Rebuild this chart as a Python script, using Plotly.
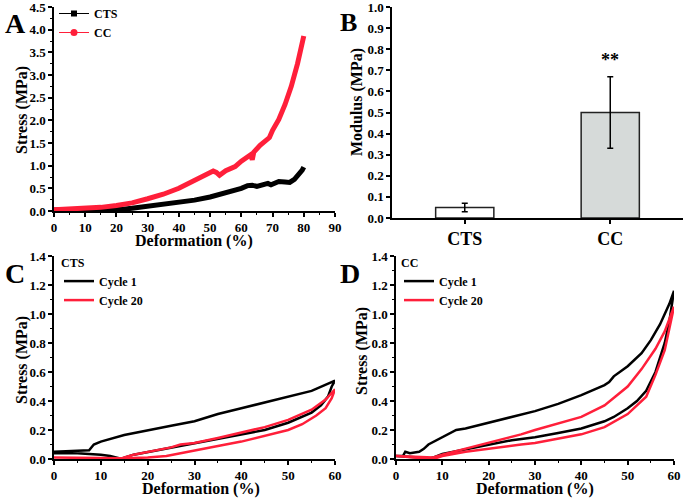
import plotly.graph_objects as go

# ---------------- Panel A: stress-strain ----------------
a_cts_x = [0, 10, 18, 22, 25, 30, 35, 40, 45, 50, 55, 60, 62, 63.5, 65, 67, 68.5, 69.5, 70.5, 72, 74, 75.5, 77, 78.5, 79.5, 80]
a_cts_y = [0.02, 0.02, 0.02, 0.04, 0.06, 0.10, 0.14, 0.18, 0.24, 0.31, 0.40, 0.50, 0.56, 0.57, 0.54, 0.58, 0.61, 0.58, 0.60, 0.65, 0.64, 0.63, 0.70, 0.80, 0.90, 0.97]
a_cc_x = [0, 10, 15, 20, 25, 30, 35, 40, 45, 50, 51, 52, 53, 55, 57, 58, 60, 62, 63, 63.5, 64, 66, 68, 69, 70, 72, 74, 76, 78, 79, 80]
a_cc_y = [0.03, 0.05, 0.08, 0.12, 0.18, 0.27, 0.37, 0.50, 0.66, 0.85, 0.88, 0.85, 0.79, 0.89, 0.96, 0.98, 1.10, 1.20, 1.24, 1.13, 1.30, 1.45, 1.57, 1.62, 1.78, 2.02, 2.35, 2.75, 3.25, 3.62, 3.86]

# ---------------- Panel B: modulus ----------------
b_cats = ["CTS", "CC"]
b_vals = [0.05, 0.50]
b_errs = [0.02, 0.17]
b_fill = ["white", "#d6dad9"]

# ---------------- Panel C: CTS cyclic ----------------
c_c1_x = [0, 5, 7.5, 8.5, 10, 15, 20, 25, 30, 35, 40, 45, 50, 55, 60,
          59.3, 58.5, 57, 55, 53, 50, 45, 40, 35, 30, 25, 20, 17, 15, 14.5, 12, 10, 5, 0]
c_c1_y = [0.05, 0.055, 0.06, 0.10, 0.12, 0.165, 0.20, 0.23, 0.26, 0.31, 0.35, 0.39, 0.43, 0.47, 0.54,
          0.50, 0.43, 0.37, 0.32, 0.29, 0.25, 0.20, 0.17, 0.14, 0.11, 0.08, 0.05, 0.03, 0.01, 0.0, 0.02, 0.03, 0.04, 0.04]
c_c20_x = [0, 10, 14.5, 17, 20, 25, 27, 30, 35, 40, 45, 50, 55, 58, 60,
           59.3, 58, 56, 53, 50, 45, 40, 35, 30, 27, 24, 20, 15]
c_c20_y = [0.01, 0.01, 0.005, 0.03, 0.05, 0.08, 0.10, 0.11, 0.145, 0.18, 0.22, 0.27, 0.34, 0.41, 0.48,
           0.42, 0.35, 0.30, 0.24, 0.20, 0.16, 0.12, 0.09, 0.06, 0.04, 0.02, 0.01, 0.005]

# ---------------- Panel D: CC cyclic ----------------
d_c1_x = [0, 1.5, 2, 3, 5, 6, 7, 10, 13, 15, 20, 25, 30, 35, 40, 45, 46, 47, 50, 53, 55, 57, 59, 60,
          59, 58, 56, 54, 52, 50, 47, 45, 40, 35, 30, 25, 20, 15, 10, 8, 7, 5, 0]
d_c1_y = [0.02, 0.02, 0.05, 0.04, 0.05, 0.07, 0.10, 0.15, 0.20, 0.21, 0.25, 0.29, 0.33, 0.38, 0.44, 0.51, 0.53, 0.57, 0.64, 0.73, 0.82, 0.93, 1.07, 1.16,
          0.95, 0.80, 0.60, 0.47, 0.40, 0.35, 0.29, 0.26, 0.21, 0.18, 0.15, 0.13, 0.10, 0.07, 0.035, 0.01, 0.0, 0.01, 0.02]
d_c20_x = [0, 8, 10, 15, 20, 27, 30, 40, 45, 50, 53, 56, 58, 60,
           59, 58, 56, 54, 50, 45, 40, 30, 27, 20, 15, 10, 8, 0]
d_c20_y = [0.02, 0.01, 0.03, 0.07, 0.11, 0.17, 0.20, 0.29, 0.37, 0.50, 0.62, 0.76, 0.88, 1.05,
           0.90, 0.75, 0.58, 0.43, 0.31, 0.22, 0.17, 0.11, 0.10, 0.07, 0.05, 0.02, 0.0, 0.02]

RED = "#ff1f3a"
FONT = "Liberation Serif"
W, H = 685, 498

def px_x(p):
    return p / W

def px_y(p):
    return 1 - p / H

fig = go.Figure()

# Panel A traces
fig.add_trace(go.Scatter(x=a_cts_x, y=a_cts_y, mode="lines", line=dict(color="black", width=5),
                         showlegend=False, xaxis="x", yaxis="y"))
fig.add_trace(go.Scatter(x=a_cc_x, y=a_cc_y, mode="lines", line=dict(color=RED, width=5),
                         showlegend=False, xaxis="x", yaxis="y"))
fig.add_trace(go.Scatter(x=[None], y=[None], mode="lines+markers", name="CTS",
                         line=dict(color="black", width=1), marker=dict(symbol="square", size=6, color="black"),
                         xaxis="x", yaxis="y", legend="legend"))
fig.add_trace(go.Scatter(x=[None], y=[None], mode="lines+markers", name="CC",
                         line=dict(color=RED, width=1), marker=dict(symbol="circle", size=7, color=RED),
                         xaxis="x", yaxis="y", legend="legend"))

# Panel B
fig.add_trace(go.Bar(x=b_cats, y=b_vals, width=0.4, marker=dict(color=b_fill, line=dict(color="#222", width=1.5)),
                     error_y=dict(type="data", array=b_errs, visible=True, color="black", thickness=1.5, width=3),
                     showlegend=False, xaxis="x2", yaxis="y2"))

# Panel C
fig.add_trace(go.Scatter(x=c_c1_x, y=c_c1_y, mode="lines", name="Cycle 1", line=dict(color="black", width=2.5),
                         xaxis="x3", yaxis="y3", legend="legend2"))
fig.add_trace(go.Scatter(x=c_c20_x, y=c_c20_y, mode="lines", name="Cycle 20", line=dict(color=RED, width=2.5),
                         xaxis="x3", yaxis="y3", legend="legend2"))

# Panel D
fig.add_trace(go.Scatter(x=d_c1_x, y=d_c1_y, mode="lines", name="Cycle 1", line=dict(color="black", width=2.5),
                         xaxis="x4", yaxis="y4", legend="legend3"))
fig.add_trace(go.Scatter(x=d_c20_x, y=d_c20_y, mode="lines", name="Cycle 20", line=dict(color=RED, width=2.5),
                         xaxis="x4", yaxis="y4", legend="legend3"))

tickfont = dict(family=FONT, size=13, color="black", weight="bold")
titlefont = dict(family=FONT, size=16, color="black", weight="bold")
legfont = dict(family=FONT, size=12, color="black", weight="bold")

def xax(domain, anchor, rng, dtick, minor_dtick):
    d = dict(domain=domain, anchor=anchor, range=rng, dtick=dtick, showline=True, linecolor="black", linewidth=1.5,
             ticks="outside", ticklen=4, tickwidth=1.5, tickcolor="black", showgrid=False, zeroline=False,
             automargin=False, ticklabeloverflow="allow", tickfont=tickfont)
    if minor_dtick:
        d["minor"] = dict(dtick=minor_dtick, ticks="outside", ticklen=2.5, tickwidth=1.2, tickcolor="black", showgrid=False)
    return d

def yax(domain, anchor, rng, dtick, minor_dtick, fmt):
    d = dict(domain=domain, anchor=anchor, range=rng, dtick=dtick, tickformat=fmt, showline=True, linecolor="black",
             linewidth=1.5, ticks="outside", ticklen=4, tickwidth=1.5, tickcolor="black", showgrid=False,
             zeroline=False, automargin=False, ticklabeloverflow="allow", tickfont=tickfont)
    if minor_dtick:
        d["minor"] = dict(dtick=minor_dtick, ticks="outside", ticklen=2.5, tickwidth=1.2, tickcolor="black", showgrid=False)
    return d

def paper_text(text, x, y, font, angle=0, xanchor="center", yanchor="middle"):
    return dict(text=text, x=px_x(x), y=px_y(y), xref="paper", yref="paper", xanchor=xanchor, yanchor=yanchor,
                textangle=angle, showarrow=False, font=font)

fig.update_layout(
    width=W, height=H, margin=dict(l=0, r=0, t=0, b=0, autoexpand=False),
    paper_bgcolor="white", plot_bgcolor="white",
    font=dict(family=FONT, color="black"),
    xaxis=xax([px_x(54), px_x(335)], "y", [0, 90], 10, 5),
    yaxis=yax([px_y(211), px_y(7)], "x", [0, 4.5], 0.5, 0.25, ".1f"),
    xaxis2=dict(domain=[px_x(392), px_x(683)], anchor="y2", range=[-0.5, 1.5], showline=True, linecolor="black",
                linewidth=1.5, ticks="outside", ticklen=4, tickwidth=1.5, tickcolor="black", showgrid=False,
                automargin=False, tickfont=dict(family=FONT, size=18, color="black", weight="bold")),
    yaxis2=yax([px_y(218), px_y(7)], "x2", [0, 1.0], 0.1, None, ".1f"),
    xaxis3=xax([px_x(54), px_x(335)], "y3", [0, 60], 10, 5),
    yaxis3=yax([px_y(459), px_y(256)], "x3", [0, 1.4], 0.2, 0.1, ".1f"),
    xaxis4=xax([px_x(396), px_x(674)], "y4", [0, 60], 10, 5),
    yaxis4=yax([px_y(459), px_y(256)], "x4", [0, 1.4], 0.2, 0.1, ".1f"),
    legend=dict(x=px_x(54), y=px_y(-1), xanchor="left", yanchor="top", bgcolor="rgba(0,0,0,0)",
                font=legfont, tracegroupgap=0),
    legend2=dict(x=px_x(59), y=px_y(251), xanchor="left", yanchor="top", bgcolor="rgba(0,0,0,0)",
                 title=dict(text="CTS", font=legfont), font=legfont),
    legend3=dict(x=px_x(399), y=px_y(251), xanchor="left", yanchor="top", bgcolor="rgba(0,0,0,0)",
                 title=dict(text="CC", font=legfont), font=legfont),
    annotations=[
        paper_text("A", 3, 6, dict(family=FONT, size=28, color="black", weight="bold"), xanchor="left", yanchor="top"),
        paper_text("B", 338, 6, dict(family=FONT, size=26, color="black", weight="bold"), xanchor="left", yanchor="top"),
        paper_text("C", 3, 256, dict(family=FONT, size=28, color="black", weight="bold"), xanchor="left", yanchor="top"),
        paper_text("D", 338, 256, dict(family=FONT, size=28, color="black", weight="bold"), xanchor="left", yanchor="top"),
        paper_text("Deformation (%)", 194, 241, titlefont),
        paper_text("Deformation (%)", 201, 489, titlefont),
        paper_text("Deformation (%)", 535, 489, titlefont),
        paper_text("Stress (MPa)", 22, 110, titlefont, angle=-90),
        paper_text("Modulus (MPa)", 357, 102, titlefont, angle=-90),
        paper_text("Stress (MPa)", 22, 360, titlefont, angle=-90),
        paper_text("Stress (MPa)", 362, 351, titlefont, angle=-90),
        dict(text="**", x="CC", y=b_vals[1] + b_errs[1] + 0.02, xref="x2", yref="y2", yanchor="bottom",
             showarrow=False, font=dict(family=FONT, size=18, color="black", weight="bold")),
    ],
)

fig.write_html("out.html", config={"displayModeBar": False},
               post_script="document.body.style.margin='0';document.body.style.padding='0';")
